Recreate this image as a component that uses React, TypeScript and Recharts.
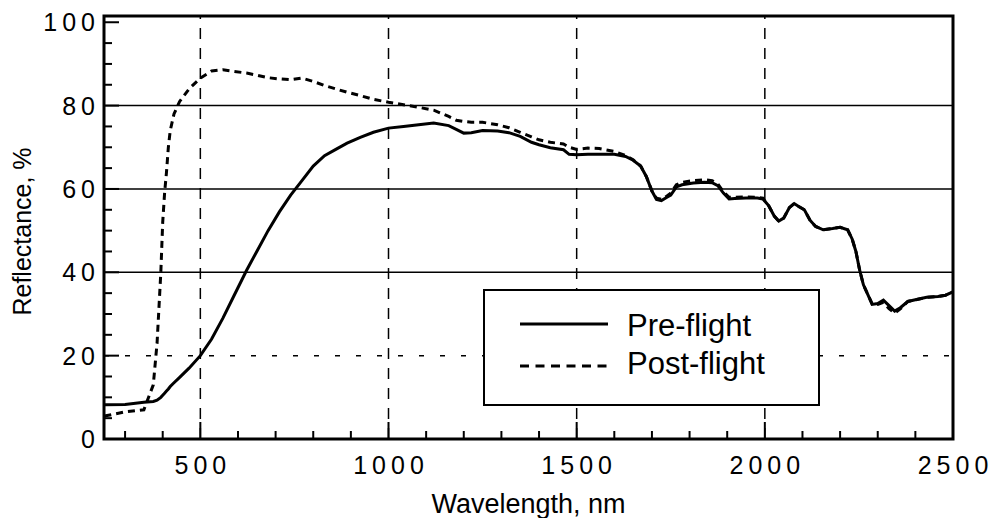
import {
  LineChart,
  Line,
  XAxis,
  YAxis,
  ReferenceLine,
  ReferenceArea,
  Legend,
} from 'recharts';

const wavelengths = [
  245, 300, 350, 375, 385, 395, 400, 405, 410, 415, 420, 430, 445, 470, 500, 530, 560, 590, 623, 650,
  680, 710, 740, 770, 800, 830, 860, 890, 925, 960, 1000, 1040, 1080, 1120, 1160, 1180, 1200, 1220, 1250, 1290,
  1320, 1350, 1380, 1400, 1430, 1465, 1480, 1500, 1530, 1560, 1600, 1630, 1650, 1670, 1685, 1700, 1712, 1725, 1740, 1750,
  1765, 1780, 1810, 1840, 1860, 1875, 1890, 1905, 1920, 1950, 1980, 1995, 2010, 2025, 2037, 2050, 2065, 2078, 2090, 2105,
  2120, 2135, 2155, 2180, 2200, 2220, 2232, 2242, 2252, 2262, 2272, 2285, 2300, 2315, 2330, 2345, 2360, 2380, 2400, 2430,
  2460, 2480, 2500,
];

const preFlight = [
  8.2, 8.3, 8.8, 9, 9.3, 10, 10.5, 11, 11.5, 12, 12.6, 13.5, 14.8, 17, 20, 24, 29, 34.5, 40.5, 45,
  50, 54.5, 58.5, 62, 65.5, 68, 69.5, 71, 72.4, 73.6, 74.6, 75, 75.4, 75.8, 75.2, 74.3, 73.4, 73.5, 74, 73.9,
  73.5, 72.6, 71.2, 70.6, 69.9, 69.4, 68.3, 68.2, 68.3, 68.3, 68.3, 67.8, 66.9, 65.5, 63, 59.5, 57.5, 57.2, 58, 58.5,
  60.5, 61, 61.4, 61.6, 61.5, 60.8, 59, 57.6, 57.7, 57.8, 57.8, 57.6, 56, 53.5, 52.3, 53, 55.5, 56.5, 55.8, 55,
  52.5, 51, 50.2, 50.5, 50.8, 50.2, 48, 45, 40.5, 37, 35, 32.3, 32.5, 33.3, 32, 30.7, 31.5, 33, 33.4, 34,
  34.2, 34.5, 35.3,
];

const postFlight = [
  5.5, 6.5, 7, 13, 23, 40, 52, 59, 64, 70, 74, 78, 81, 84, 86.6, 88.3, 88.6, 88.2, 87.8, 87.3,
  86.7, 86.4, 86.2, 86.6, 85.8, 84.8, 84, 83.2, 82.4, 81.5, 80.8, 80.2, 79.6, 78.9, 77.4, 76.5, 76.2, 76, 76, 75.4,
  74.7, 73.6, 72.5, 71.8, 71.2, 70.8, 70, 69.5, 69.8, 69.7, 69, 68, 67, 65.5, 63, 59.5, 57.8, 57.5, 58.3, 59,
  61, 61.6, 62, 62.2, 62, 61.2, 59.3, 58, 58, 58.1, 58, 57.8, 56, 53.5, 52.3, 53, 55.5, 56.5, 55.8, 55,
  52.5, 51, 50.2, 50.5, 50.8, 50.2, 48, 45, 40.5, 37, 35, 32.5, 32.3, 32.8, 31.3, 30.2, 31.2, 33, 33.4, 34,
  34.2, 34.5, 35.3,
];

const xTicks = [
  300, 400, 500, 600, 700, 800, 900, 1000, 1100, 1200, 1300, 1400, 1500,
  1600, 1700, 1800, 1900, 2000, 2100, 2200, 2300, 2400, 2500,
];
const yTicks = [0, 5, 10, 15, 20, 25, 30, 35, 40, 45, 50, 55, 60, 65, 70, 75, 80, 85, 90, 95, 100];
const solidGrid = [40, 60, 80];
const dashedGridX = [500, 1000, 1500, 2000];

const data = wavelengths.map((w, i) => ({ w, pre: preFlight[i], post: postFlight[i] }));

const FONT = '"Liberation Sans", Arial, Helvetica, sans-serif';
const LS = 5;

// spaced digits without trailing space after the last one
function spaced(v: number) {
  return String(v)
    .split('')
    .map((c, i) => (
      <tspan key={i} dx={i > 0 ? LS : 0}>
        {c}
      </tspan>
    ));
}

function XTick(props: any) {
  const { x, y, payload } = props;
  const major = payload.value % 500 === 0;
  return (
    <g>
      <line x1={x} x2={x} y1={y} y2={y - (major ? 17 : 8)} stroke="#000" strokeWidth={2} />
      {major && (
        <text x={x} y={y + 35} textAnchor="middle" fontFamily={FONT} fontSize={25} fill="#000">
          {spaced(payload.value)}
        </text>
      )}
    </g>
  );
}

function YTick(props: any) {
  const { x, y, payload } = props;
  const major = payload.value % 20 === 0;
  return (
    <g>
      <line x1={x} x2={x + (major ? 15 : 8)} y1={y} y2={y} stroke="#000" strokeWidth={2} />
      {major && (
        <text x={x - 9} y={y + 9} textAnchor="end" fontFamily={FONT} fontSize={25} fill="#000">
          {spaced(payload.value)}
        </text>
      )}
    </g>
  );
}

function LegendBox() {
  return (
    <div
      style={{
        width: 337,
        height: 117,
        boxSizing: 'border-box',
        border: '2.5px solid #000',
        background: '#fff',
      }}
    >
      <svg width={332} height={112} style={{ display: 'block' }}>
        <line x1={35} x2={123} y1={33} y2={33} stroke="#000" strokeWidth={3} />
        <line x1={35} x2={123} y1={75} y2={75} stroke="#000" strokeWidth={3} strokeDasharray="9 6.5" />
        <text x={142} y={45} fontFamily={FONT} fontSize={31} fill="#000">Pre-flight</text>
        <text x={142} y={83} fontFamily={FONT} fontSize={31} fill="#000">Post-flight</text>
      </svg>
    </div>
  );
}

export default function App() {
  return (
    <div style={{ position: 'absolute', left: 0, top: 0, background: '#fff' }}>
      <LineChart width={990} height={518} data={data} margin={{ top: 16, right: 37, bottom: 0, left: 0 }}>
        <XAxis
          dataKey="w"
          type="number"
          domain={[244, 2500]}
          ticks={xTicks}
          interval={0}
          allowDataOverflow
          axisLine={false}
          tickLine={false}
          tickSize={0}
          tickMargin={0}
          height={79}
          tick={<XTick />}
          label={{
            content: ({ viewBox }: any) => (
              <text
                x={viewBox.x + viewBox.width / 2}
                y={viewBox.y + 74}
                textAnchor="middle"
                fontFamily={FONT}
                fontSize={27}
                fill="#000"
              >
                Wavelength, nm
              </text>
            ),
          }}
        />
        <YAxis
          type="number"
          domain={[0, 101.5]}
          ticks={yTicks}
          interval={0}
          allowDataOverflow
          axisLine={false}
          tickLine={false}
          tickSize={0}
          tickMargin={0}
          width={104}
          tick={<YTick />}
          label={{
            content: ({ viewBox }: any) => {
              const cx = 22;
              const cy = viewBox.y + viewBox.height / 2 + 4;
              return (
                <text
                  x={cx}
                  y={cy}
                  transform={`rotate(-90 ${cx} ${cy})`}
                  textAnchor="middle"
                  dominantBaseline="central"
                  fontFamily={FONT}
                  fontSize={25}
                  fill="#000"
                >
                  Reflectance, %
                </text>
              );
            },
          }}
        />
        {solidGrid.map((v) => (
          <ReferenceLine key={`h${v}`} y={v} stroke="#000" strokeWidth={1.5} />
        ))}
        <ReferenceLine y={20} stroke="#000" strokeWidth={1.5} strokeDasharray="5 16" />
        {dashedGridX.map((v) => (
          <ReferenceLine key={`v${v}`} x={v} stroke="#000" strokeWidth={1.5} strokeDasharray="11 9" />
        ))}
        <Line
          type="linear"
          dataKey="pre"
          name="Pre-flight"
          stroke="#000"
          strokeWidth={3}
          dot={false}
          isAnimationActive={false}
        />
        <Line
          type="linear"
          dataKey="post"
          name="Post-flight"
          stroke="#000"
          strokeWidth={3}
          strokeDasharray="7 5"
          dot={false}
          isAnimationActive={false}
        />
        <ReferenceArea x1={244} x2={2500} y1={0} y2={101.5} fill="none" fillOpacity={0} stroke="#000" strokeWidth={3} />
        <Legend
          layout="vertical"
          align="center"
          verticalAlign="middle"
          content={<LegendBox />}
          wrapperStyle={{ left: 483, top: 289, width: 337, height: 117 }}
        />
      </LineChart>
    </div>
  );
}
